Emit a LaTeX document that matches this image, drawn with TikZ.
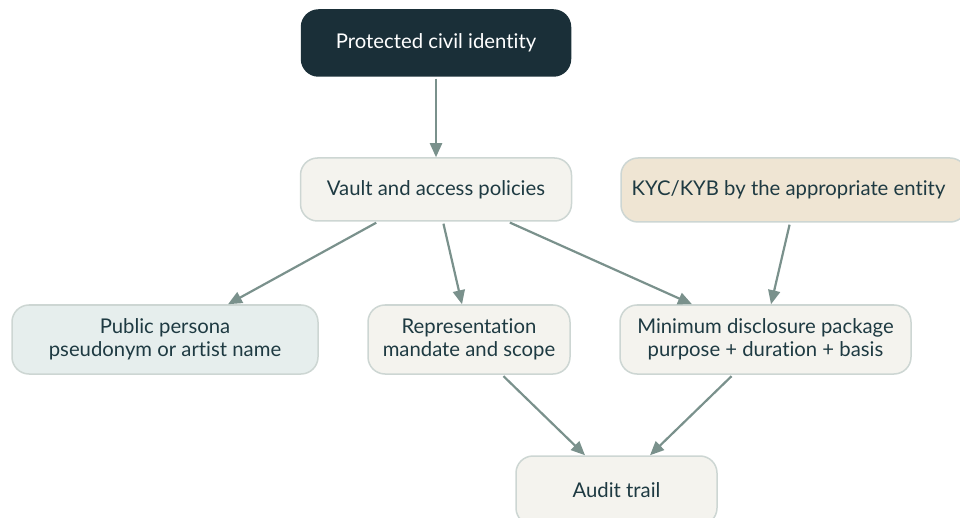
\documentclass[tikz,border=0pt]{standalone}
\usepackage{fontspec}
\setmainfont{Lato}[Ligatures={NoCommon,NoRare}]
\usetikzlibrary{arrows.meta,calc}
\definecolor{ink}{HTML}{1E3A42}
\definecolor{darkfill}{HTML}{1A2F38}
\definecolor{paper}{HTML}{F4F3EE}
\definecolor{mist}{HTML}{E6EEED}
\definecolor{sand}{HTML}{EFE5D3}
\definecolor{rim}{HTML}{CDD6D3}
\definecolor{link}{HTML}{7A918C}
\tikzset{
  label font/.style={font=\fontsize{20.3}{23.5}\selectfont},
  box/.style={draw=rim, line width=1.5pt, rounded corners=17pt, fill=paper,
    text=ink, align=center, label font, inner sep=0pt},
  darkbox/.style={box, fill=darkfill, draw=darkfill, text=white},
  flow/.style={draw=link, line width=2.2pt,
    -{Triangle[length=14pt,width=12pt]}, shorten <=2pt}
}
\begin{document}
\begin{tikzpicture}[x=1pt,y=-1pt]
\useasboundingbox (0,0) rectangle (960,518);
\begin{scope}
\clip (0,0) rectangle (960,518);
\node[darkbox, minimum width=269pt, minimum height=66pt] (civil) at (436,43) {Protected civil identity};
\node[box, minimum width=271pt, minimum height=63pt] (vault) at (436,189.5) {Vault and access policies};
\node[box, fill=sand, minimum width=346pt, minimum height=64pt] (kyc) at (794,190) {};
\node[text=ink, label font] (kyctext) at (788.5,189.5) {KYC/KYB by the appropriate entity};
\node[box, fill=mist, minimum width=306pt, minimum height=69pt] (persona) at (165,339.5) {Public persona\\pseudonym or artist name};
\node[box, minimum width=202pt, minimum height=69pt] (mandate) at (469,339.5) {Representation\\mandate and scope};
\node[box, minimum width=291pt, minimum height=69pt] (package) at (765.5,339.5) {Minimum disclosure package\\purpose + duration + basis};
\node[box, minimum width=201pt, minimum height=69pt] (audit) at (616.5,490.5) {Audit trail};

\draw[flow] (civil.south) -- (vault.north);
\draw[flow] ($(vault.south)+(-58,0)$) -- ($(persona.north)+(63,0)$);
\draw[flow] ($(vault.south)+(7,0)$) -- ($(mandate.north)+(-7,0)$);
\draw[flow] ($(vault.south)+(72,0)$) -- ($(package.north)+(-73.5,0)$);
\draw[flow] ($(kyc.south)+(-4,0)$) -- ($(package.north)+(5.5,0)$);
\draw[flow] ($(mandate.south)+(33,0)$) -- ($(audit.north)+(-31.5,0)$);
\draw[flow] ($(package.south)+(-32.5,0)$) -- ($(audit.north)+(33.5,0)$);
\end{scope}
\end{tikzpicture}
\end{document}
